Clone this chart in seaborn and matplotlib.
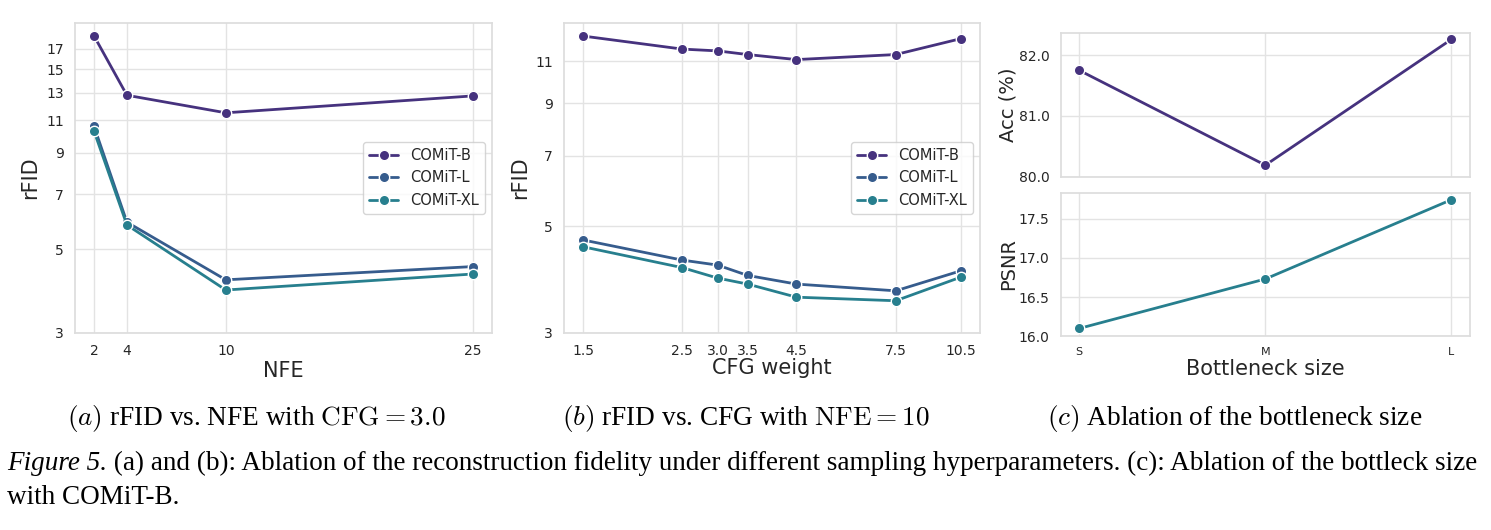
import numpy as np
import pandas as pd
import matplotlib
matplotlib.use('Agg')
import matplotlib.pyplot as plt
import seaborn as sns
from matplotlib.ticker import FixedLocator, FixedFormatter, NullLocator, NullFormatter, FormatStrFormatter

# (a) rFID vs NFE
nfe = [2, 4, 10, 25]
rfid_nfe_b = [18.4, 12.8, 11.5, 12.75]
rfid_nfe_l = [10.6, 5.9, 4.15, 4.5]
rfid_nfe_xl = [10.3, 5.8, 3.9, 4.3]

# (b) rFID vs CFG weight
cfg = [1.5, 2.5, 3.0, 3.5, 4.5, 7.5, 10.5]
cfg_labels = ['1.5', '2.5', '3.0', '3.5', '4.5', '7.5', '10.5']
rfid_cfg_b = [12.4, 11.65, 11.55, 11.35, 11.08, 11.35, 12.25]
rfid_cfg_l = [4.68, 4.25, 4.15, 3.95, 3.79, 3.67, 4.04]
rfid_cfg_xl = [4.53, 4.1, 3.9, 3.79, 3.56, 3.5, 3.92]

# (c) bottleneck size
sizes = ['S', 'M', 'L']
acc = [81.75, 80.19, 82.26]
psnr = [16.1, 16.73, 17.74]

models = ['COMiT-B', 'COMiT-L', 'COMiT-XL']
rfid_ticks_a = [3, 5, 7, 9, 11, 13, 15, 17]
rfid_ticks_b = [3, 5, 7, 9, 11]

sns.set_theme(style='whitegrid')
plt.rcParams['font.family'] = ['DejaVu Sans']
plt.rcParams['axes.edgecolor'] = '#dddddd'
plt.rcParams['grid.color'] = '#e3e3e3'
plt.rcParams['text.color'] = '#262626'

colors = sns.color_palette('viridis', 6)[:3]
pal = dict(zip(models, colors))

df_nfe = pd.DataFrame({
    'NFE': nfe * 3,
    'rFID': rfid_nfe_b + rfid_nfe_l + rfid_nfe_xl,
    'model': [m for m in models for _ in nfe],
})
df_cfg = pd.DataFrame({
    'CFG': cfg * 3,
    'rFID': rfid_cfg_b + rfid_cfg_l + rfid_cfg_xl,
    'model': [m for m in models for _ in cfg],
})
df_c = pd.DataFrame({'size': sizes, 'acc': acc, 'psnr': psnr})

fig = plt.figure(figsize=(14.91, 5.30), dpi=100)
ax_a = fig.add_axes([0.0503, 0.3717, 0.2797, 0.585])
ax_b = fig.add_axes([0.3783, 0.3717, 0.279, 0.585])
ax_c1 = fig.add_axes([0.7114, 0.6666, 0.2745, 0.2717])
ax_c2 = fig.add_axes([0.7114, 0.3655, 0.2745, 0.271], sharex=ax_c1)

line_kw = dict(marker='o', markersize=7.5, linewidth=2, markeredgecolor='white',
               markeredgewidth=1)


def log_y(ax, ticks):
    ax.set_yscale('log')
    ax.yaxis.set_major_locator(FixedLocator(ticks))
    ax.yaxis.set_major_formatter(FixedFormatter([str(t) for t in ticks]))
    ax.yaxis.set_minor_locator(NullLocator())
    ax.yaxis.set_minor_formatter(NullFormatter())


# panel (a)
sns.lineplot(data=df_nfe, x='NFE', y='rFID', hue='model', palette=pal, ax=ax_a, **line_kw)
log_y(ax_a, rfid_ticks_a)
ax_a.set_ylim(3, 19.9)
ax_a.set_xticks(nfe)
ax_a.set_xlabel('NFE', fontsize=15, labelpad=2)
ax_a.set_ylabel('rFID', fontsize=15)
ax_a.tick_params(labelsize=10, pad=2)
ax_a.legend(title=None, loc='center right', fontsize=10.5, frameon=True)

# panel (b)
sns.lineplot(data=df_cfg, x='CFG', y='rFID', hue='model', palette=pal, ax=ax_b, **line_kw)
ax_b.set_xscale('log')
ax_b.xaxis.set_major_locator(FixedLocator(cfg))
ax_b.xaxis.set_major_formatter(FixedFormatter(cfg_labels))
ax_b.xaxis.set_minor_locator(NullLocator())
ax_b.xaxis.set_minor_formatter(NullFormatter())
log_y(ax_b, rfid_ticks_b)
ax_b.set_ylim(3, 13.2)
ax_b.set_xlabel('CFG weight', fontsize=15, labelpad=0)
ax_b.set_ylabel('rFID', fontsize=15)
ax_b.tick_params(labelsize=10, pad=2)
ax_b.legend(title=None, loc='center right', fontsize=10.5, frameon=True)

# panel (c)
sns.lineplot(data=df_c, x='size', y='acc', color=colors[0], ax=ax_c1, **line_kw)
sns.lineplot(data=df_c, x='size', y='psnr', color=colors[2], ax=ax_c2, **line_kw)
ax_c1.set_ylim(80.0, 82.37)
ax_c1.set_yticks([80.0, 81.0, 82.0])
ax_c1.yaxis.set_major_formatter(FormatStrFormatter('%.1f'))
ax_c1.set_ylabel('Acc (%)', fontsize=14)
ax_c1.set_xlabel('')
ax_c1.tick_params(axis='x', labelbottom=False)
ax_c1.tick_params(labelsize=10, pad=2)
ax_c2.set_ylim(16.0, 17.83)
ax_c2.set_yticks([16.0, 16.5, 17.0, 17.5])
ax_c2.yaxis.set_major_formatter(FormatStrFormatter('%.1f'))
ax_c2.set_ylabel('PSNR', fontsize=14)
ax_c2.set_xlabel('Bottleneck size', fontsize=15, labelpad=1)
ax_c2.tick_params(axis='y', labelsize=10, pad=2)
ax_c2.tick_params(axis='x', labelsize=8, pad=2)
for ax in (ax_c1, ax_c2):
    ax.yaxis.set_label_coords(-0.105, 0.5)

# sub-captions
sub_kw = dict(family='Liberation Serif', math_fontfamily='cm', color='black',
              ha='center', va='center', fontsize=19.6)
fig.text(256 / 1491, 1 - 418 / 530, r'$\mathit{(a)}$ rFID vs. NFE with $\mathrm{CFG}=3.0$', **sub_kw)
fig.text(746 / 1491, 1 - 418 / 530, r'$\mathit{(b)}$ rFID vs. CFG with $\mathrm{NFE}=10$', **sub_kw)
fig.text(1235 / 1491, 1 - 418 / 530, r'$\mathit{(c)}$ Ablation of the bottleneck size', **sub_kw)

# figure caption: italic label followed by the regular text
cap_kw = dict(family='Liberation Serif', color='black', fontsize=19.55)
lead = fig.text(7 / 1491, 1 - 470 / 530, 'Figure 5.', style='italic',
                ha='left', va='baseline', **cap_kw)
plt.annotate(' (a) and (b): Ablation of the reconstruction fidelity under different sampling '
             'hyperparameters. (c): Ablation of the bottleck size',
             xy=(1, 0), xycoords=lead, ha='left', va='bottom', annotation_clip=False, **cap_kw)
fig.text(7 / 1491, 1 - 504 / 530, 'with COMiT-B.', ha='left', va='baseline', **cap_kw)

fig.savefig('out.png', dpi=100)
